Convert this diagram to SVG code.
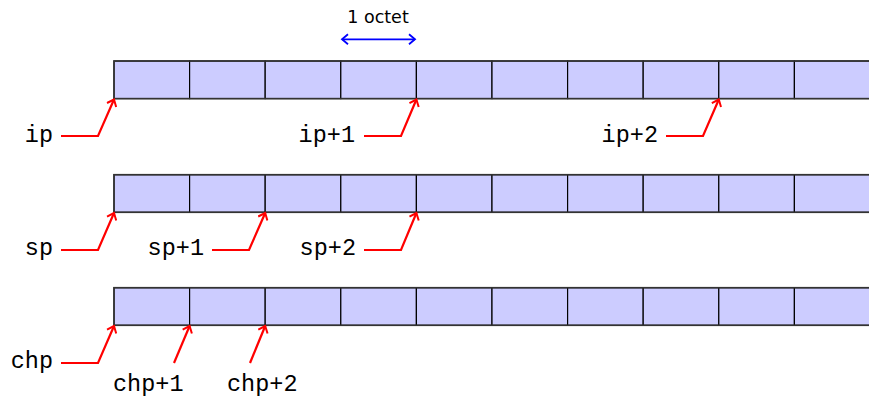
<svg xmlns="http://www.w3.org/2000/svg" width="869" height="398" viewBox="0 0 869 398">
<defs>
<style>
.cell{fill:#ccccff;stroke:#000;stroke-width:1.2}
.frame{fill:none;stroke:#333;stroke-width:1.6}
.ptr{fill:none;stroke:#ff0000;stroke-width:2.2;stroke-linejoin:miter}
.lbl{font-family:"Liberation Mono","DejaVu Sans Mono",monospace;font-size:23.5px;fill:#000}
.oct{font-family:"DejaVu Sans","Liberation Sans",sans-serif;font-size:17.5px;fill:#000}
</style>
<marker id="ah" viewBox="-8 -6 10 12" markerWidth="10" markerHeight="12" refX="0" refY="0" orient="auto" markerUnits="userSpaceOnUse">
<path d="M -6 -5 L 0 0 L -6 5" fill="none" stroke="#ff0000" stroke-width="2"/>
</marker>
<marker id="bh" viewBox="-8 -6 10 12" markerWidth="10" markerHeight="12" refX="0" refY="0" orient="auto-start-reverse" markerUnits="userSpaceOnUse">
<path d="M -6 -5 L 0 0 L -6 5" fill="none" stroke="#0000ff" stroke-width="1.8"/>
</marker>
<g id="strip">
<rect class="cell" x="114" y="0" width="75.6" height="37.6"/>
<rect class="cell" x="189.6" y="0" width="75.6" height="37.6"/>
<rect class="cell" x="265.2" y="0" width="75.6" height="37.6"/>
<rect class="cell" x="340.8" y="0" width="75.6" height="37.6"/>
<rect class="cell" x="416.4" y="0" width="75.6" height="37.6"/>
<rect class="cell" x="492" y="0" width="75.6" height="37.6"/>
<rect class="cell" x="567.6" y="0" width="75.6" height="37.6"/>
<rect class="cell" x="643.2" y="0" width="75.6" height="37.6"/>
<rect class="cell" x="718.8" y="0" width="75.6" height="37.6"/>
<rect class="cell" x="794.4" y="0" width="75.6" height="37.6"/>
<rect class="frame" x="114" y="0" width="760" height="37.6"/>
</g>
</defs>

<g id="scale">
<line x1="342" y1="39.3" x2="415" y2="39.3" stroke="#0000ff" stroke-width="1.8" marker-start="url(#bh)" marker-end="url(#bh)"/>
<text class="oct" x="378" y="23" text-anchor="middle">1 octet</text>
</g>

<g id="row-ip"><use href="#strip" y="61"/></g>
<g id="row-sp"><use href="#strip" y="174.7"/></g>
<g id="row-chp"><use href="#strip" y="287.7"/></g>

<g id="labels">
<text class="lbl" x="53" y="142" text-anchor="end">ip</text>
<text class="lbl" x="355" y="142" text-anchor="end">ip+1</text>
<text class="lbl" x="658" y="142" text-anchor="end">ip+2</text>
<text class="lbl" x="53" y="255" text-anchor="end">sp</text>
<text class="lbl" x="204" y="255" text-anchor="end">sp+1</text>
<text class="lbl" x="356" y="255" text-anchor="end">sp+2</text>
<text class="lbl" x="53" y="368" text-anchor="end">chp</text>
<text class="lbl" x="113" y="391">chp+1</text>
<text class="lbl" x="227" y="391">chp+2</text>
</g>

<g id="connectors">
<polyline class="ptr" points="61,136 98,136 114,99.5" marker-end="url(#ah)"/>
<polyline class="ptr" points="364,136 401,136 416.4,99.5" marker-end="url(#ah)"/>
<polyline class="ptr" points="666,136 703,136 718.8,99.5" marker-end="url(#ah)"/>
<polyline class="ptr" points="61,250 98,250 114,213" marker-end="url(#ah)"/>
<polyline class="ptr" points="212,250 249,250 265.2,213" marker-end="url(#ah)"/>
<polyline class="ptr" points="364,250 401,250 416.4,213" marker-end="url(#ah)"/>
<polyline class="ptr" points="61,363 98,363 114,326" marker-end="url(#ah)"/>
<polyline class="ptr" points="174,363 189.6,326" marker-end="url(#ah)"/>
<polyline class="ptr" points="250,363 265.2,326" marker-end="url(#ah)"/>
</g>
</svg>
